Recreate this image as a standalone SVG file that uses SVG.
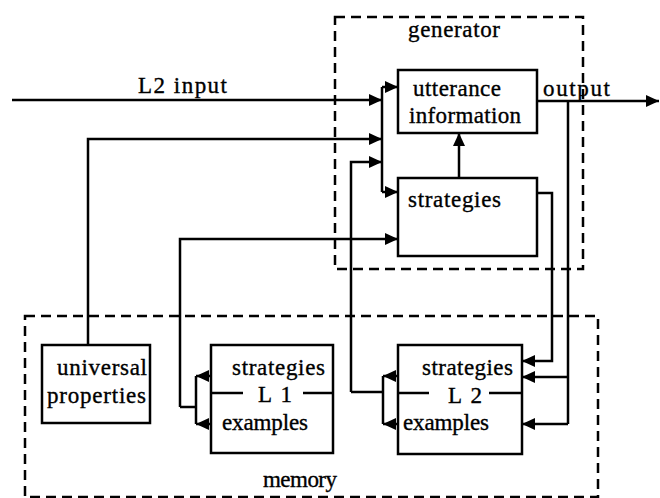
<svg xmlns="http://www.w3.org/2000/svg" width="660" height="498" viewBox="0 0 660 498">
<style>
text{font-family:"Liberation Serif","Times New Roman",serif;font-size:23px;fill:#000;stroke:#000;stroke-width:0.35}
.box{fill:#fff;stroke:#000;stroke-width:2.5}
.dash{fill:none;stroke:#000;stroke-width:2.5;stroke-dasharray:10 6}
.ln{fill:none;stroke:#000;stroke-width:2.5}
.ar{fill:none;stroke:#000;stroke-width:2.5;marker-end:url(#ah)}
</style>
<defs>
<marker id="ah" markerUnits="userSpaceOnUse" markerWidth="14" markerHeight="14" viewBox="0 0 14 14" refX="13" refY="7" orient="auto">
<path d="M0,1 L13,7 L0,13 Z" fill="#000"/>
</marker>
</defs>
<g id="generator">
<rect class="dash" x="335" y="17" width="248" height="252"/>
<text x="408" y="37" textLength="92" lengthAdjust="spacing">generator</text>
</g>
<g id="memory">
<rect class="dash" x="25" y="316" width="573" height="181"/>
<text x="263" y="487" textLength="74" lengthAdjust="spacing">memory</text>
</g>
<g id="utterance">
<rect class="box" x="398" y="70" width="139" height="63"/>
<text x="413" y="96" textLength="88" lengthAdjust="spacing">utterance</text>
<text x="409" y="123" textLength="112" lengthAdjust="spacing">information</text>
</g>
<g id="gen-strategies">
<rect class="box" x="398" y="178" width="139" height="78"/>
<text x="408" y="207" textLength="93" lengthAdjust="spacing">strategies</text>
</g>
<g id="universal">
<rect class="box" x="42" y="345" width="108" height="78"/>
<text x="57" y="375" textLength="90" lengthAdjust="spacing">universal</text>
<text x="47" y="403" textLength="99" lengthAdjust="spacing">properties</text>
</g>
<g id="L1">
<rect class="box" x="211" y="345" width="122" height="108"/>
<line class="ln" x1="211" y1="393" x2="243" y2="393"/>
<line class="ln" x1="303" y1="393" x2="333" y2="393"/>
<text x="232" y="375" textLength="93" lengthAdjust="spacing">strategies</text>
<text x="258" y="402" textLength="34" lengthAdjust="spacing">L 1</text>
<text x="222" y="430" textLength="86" lengthAdjust="spacing">examples</text>
</g>
<g id="L2">
<rect class="box" x="398" y="345" width="124" height="109"/>
<line class="ln" x1="398" y1="393" x2="429" y2="393"/>
<line class="ln" x1="489" y1="393" x2="522" y2="393"/>
<text x="422" y="375" textLength="91" lengthAdjust="spacing">strategies</text>
<text x="448" y="403" textLength="34" lengthAdjust="spacing">L 2</text>
<text x="403" y="430" textLength="86" lengthAdjust="spacing">examples</text>
</g>
<g id="labels">
<text x="138" y="93" textLength="89" lengthAdjust="spacing">L2 input</text>
<text x="543" y="96" textLength="67" lengthAdjust="spacing">output</text>
</g>
<g id="connectors">
<path class="ar" d="M12,100 H382"/>
<path class="ar" d="M88,345 V139 H382"/>
<path class="ar" d="M351,392 V162 H382"/>
<path class="ln" d="M382,87 V192"/>
<path class="ar" d="M382,87 H398"/>
<path class="ar" d="M382,192 H398"/>
<path class="ar" d="M180,407 V239 H398"/>
<path class="ln" d="M196,376 V424"/>
<path class="ar" d="M211,376 H196"/>
<path class="ar" d="M211,424 H196"/>
<path class="ln" d="M196,407 H180"/>
<path class="ln" d="M383,376 V424"/>
<path class="ar" d="M398,376 H383"/>
<path class="ar" d="M398,424 H383"/>
<path class="ln" d="M383,392 H351"/>
<path class="ar" d="M459,178 V133"/>
<path class="ar" d="M537,101 H659"/>
<path class="ln" d="M568,101 V424"/>
<path class="ar" d="M568,377 H522"/>
<path class="ar" d="M568,424 H522"/>
<path class="ar" d="M537,193 H552 V361 H522"/>
</g>
</svg>
